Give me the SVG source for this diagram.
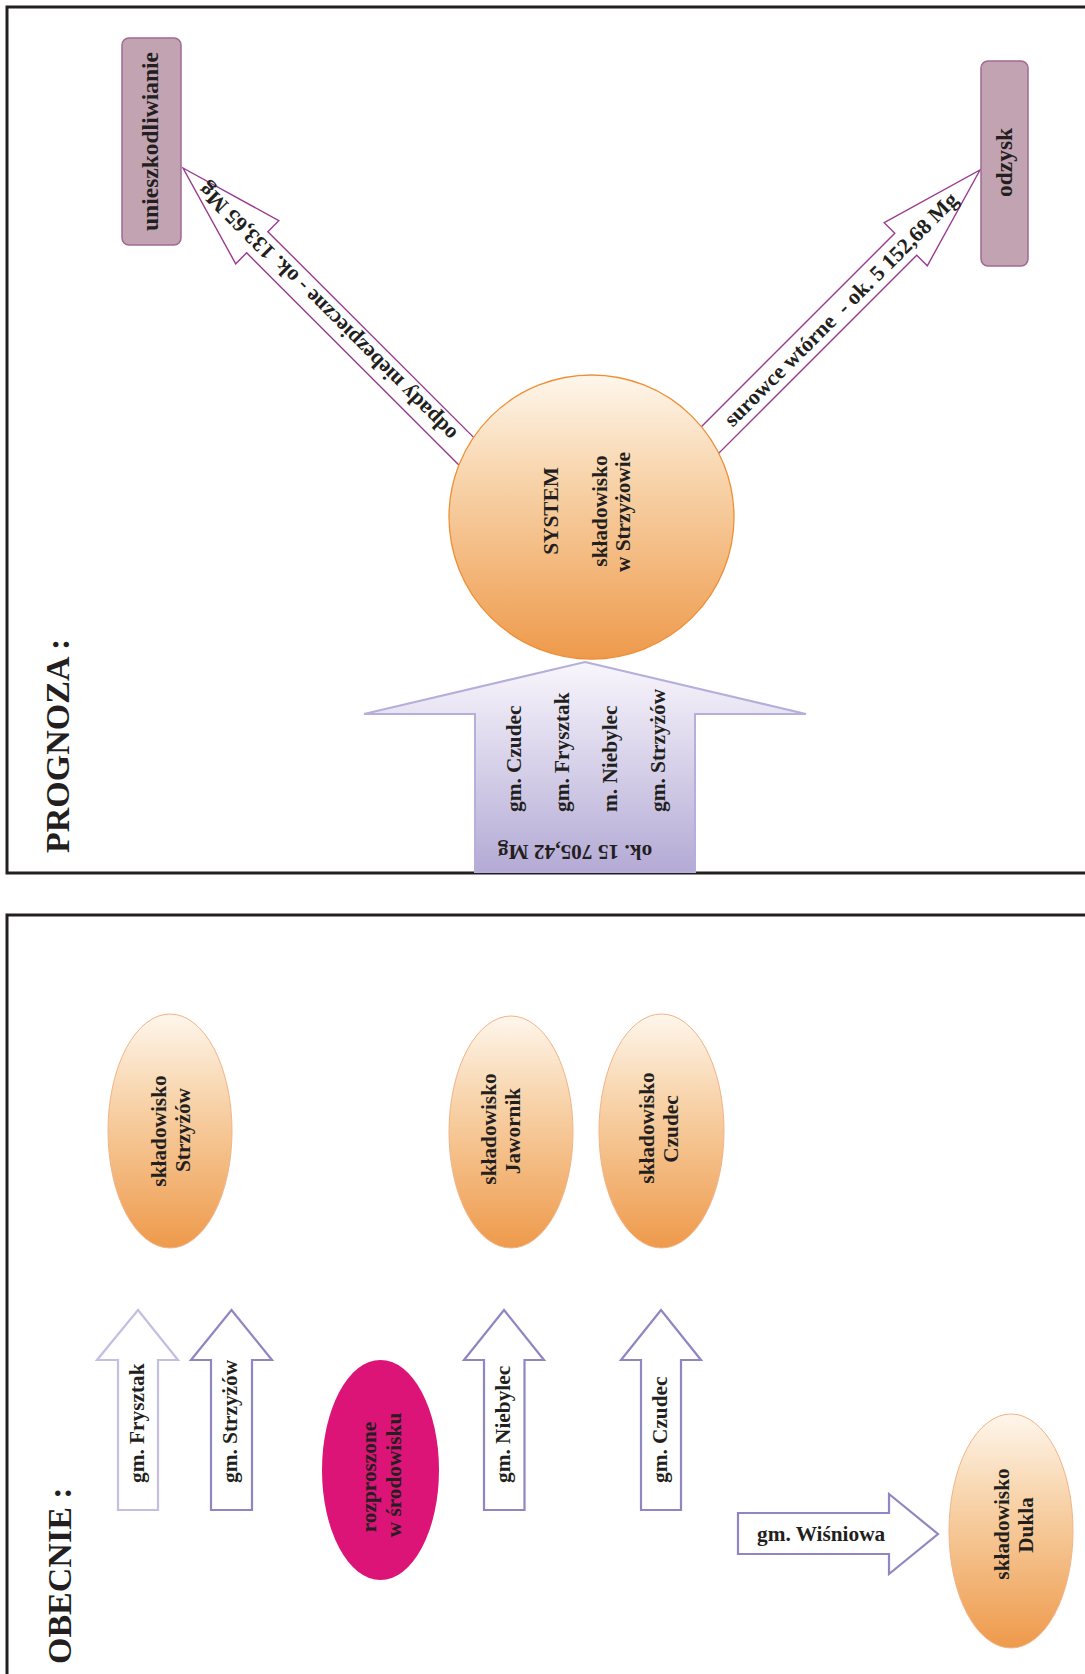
<svg xmlns="http://www.w3.org/2000/svg" width="1085" height="1674" viewBox="0 0 1085 1674">
<style>
  .t { font-family: "Liberation Serif", "Times New Roman", serif; font-weight: bold; fill: #231f20; }
  .s21 { font-size: 21.3px; }
  .s22 { font-size: 22px; }
  .s23 { font-size: 23.5px; }
  .big { font-size: 34px; }
  .frame { fill: none; stroke: #231f20; stroke-width: 3; }
  .box { fill: #c2a3b2; stroke: #a06a92; stroke-width: 1.5; }
  .orange { fill: url(#gOrange); stroke: #f3b387; stroke-width: 1; }
  .circ { fill: url(#gOrange); stroke: #ef8f35; stroke-width: 1.3; }
  .diag { fill: #ffffff; stroke: #9a3a8e; stroke-width: 1.4; }
  .varrow { fill: #ffffff; stroke: #8f87c2; stroke-width: 2.2; }
  .varrow-light { fill: #ffffff; stroke: #c4bee2; stroke-width: 2.2; }
</style>
<defs>
  <linearGradient id="gOrange" x1="0" y1="0" x2="0" y2="1">
    <stop offset="0" stop-color="#fef6ec"/>
    <stop offset="0.35" stop-color="#f8d5ad"/>
    <stop offset="1" stop-color="#ee9a4b"/>
  </linearGradient>
  <linearGradient id="gPurple" x1="0" y1="0" x2="0" y2="1">
    <stop offset="0" stop-color="#f8f6fc"/>
    <stop offset="1" stop-color="#b4aad5"/>
  </linearGradient>
</defs>
<rect width="1085" height="1674" fill="#ffffff"/>

<!-- frames -->
<path class="frame" d="M1095 7 H7 V873 H1095"/>
<path class="frame" d="M1095 915 H7 V1680"/>

<!-- section titles -->
<text class="t big" transform="translate(69,853) rotate(-90)">PROGNOZA :</text>
<text class="t big" transform="translate(71,1664) rotate(-90)">OBECNIE :</text>

<!-- connectors -->
<g id="connectors">
  <g id="arrow-odpady" transform="translate(183,168) rotate(45)">
    <polygon class="diag" points="0,0 105,-30.5 105,-15 420,-15 420,15 105,15 105,30.5"/>
    <text class="t s22" text-anchor="middle" transform="translate(204,0) rotate(180)" dy="0.34em">odpady niebezpieczne - ok. 133,65 Mg</text>
  </g>
  <g id="arrow-surowce" transform="translate(980,170) rotate(135)">
    <polygon class="diag" points="0,0 105,-30.5 105,-15.5 410,-15.5 410,15.5 105,15.5 105,30.5"/>
    <text class="t s22" text-anchor="middle" transform="translate(197,0) rotate(180)" dy="0.34em" xml:space="preserve">surowce wtórne  - ok. 5 152,68 Mg</text>
  </g>
  <g id="arrow-input">
    <polygon fill="url(#gPurple)" stroke="#b6aedb" stroke-width="2" points="585,662 806,714 695,714 695,872 475,872 475,714 364,714"/>
    <text class="t s21" transform="translate(521,812) rotate(-90)">gm. Czudec</text>
    <text class="t s21" transform="translate(569,812) rotate(-90)">gm. Frysztak</text>
    <text class="t s21" transform="translate(617,812) rotate(-90)">m. Niebylec</text>
    <text class="t s21" transform="translate(665,812) rotate(-90)">gm. Strzyżów</text>
    <text class="t s21" text-anchor="middle" transform="translate(575,845) rotate(180)">ok. 15 705,42 Mg</text>
  </g>

  <g id="arrow-frysztak">
    <polygon class="varrow-light" points="138,1310 178,1360 158,1360 158,1510 118,1510 118,1360 97,1360"/>
    <text class="t s21" transform="translate(143.5,1483) rotate(-90)">gm. Frysztak</text>
  </g>
  <g id="arrow-strzyzow">
    <polygon class="varrow" points="231.5,1310 272,1360 252,1360 252,1510 211,1510 211,1360 191,1360"/>
    <text class="t s21" transform="translate(237,1483) rotate(-90)">gm. Strzyżów</text>
  </g>
  <g id="arrow-niebylec">
    <polygon class="varrow" points="504,1310 544,1360 524.5,1360 524.5,1510 484,1510 484,1360 464,1360"/>
    <text class="t s21" transform="translate(509.5,1483) rotate(-90)">gm. Niebylec</text>
  </g>
  <g id="arrow-czudec">
    <polygon class="varrow" points="661,1310 701,1360 681,1360 681,1510 641,1510 641,1360 621,1360"/>
    <text class="t s21" transform="translate(666.5,1483) rotate(-90)">gm. Czudec</text>
  </g>
  <g id="arrow-wisniowa">
    <polygon class="varrow" points="738,1513 889,1513 889,1494 938,1534 889,1574 889,1554 738,1554"/>
    <text class="t s21" x="757" y="1541">gm. Wiśniowa</text>
  </g>
</g>

<!-- nodes -->
<g id="node-unieszkodliwianie">
  <rect class="box" x="122" y="38" width="59" height="207" rx="7"/>
  <text class="t s23" text-anchor="middle" transform="translate(158,141.5) rotate(-90)">unieszkodliwianie</text>
</g>
<g id="node-odzysk">
  <rect class="box" x="981" y="61" width="47" height="205" rx="7"/>
  <text class="t s23" text-anchor="middle" transform="translate(1012,162.5) rotate(-90)">odzysk</text>
</g>
<g id="node-system">
  <ellipse class="circ" cx="591.5" cy="517" rx="142.5" ry="142"/>
  <text class="t s21" text-anchor="middle" transform="translate(558,511) rotate(-90)">SYSTEM</text>
  <text class="t s21" text-anchor="middle" transform="translate(607,511) rotate(-90)">składowisko</text>
  <text class="t s21" text-anchor="middle" transform="translate(630,512) rotate(-90)">w Strzyżowie</text>
</g>

<g id="node-skl-strzyzow">
  <ellipse class="orange" cx="170" cy="1131" rx="62" ry="117"/>
  <text class="t s21" text-anchor="middle" transform="translate(166,1131) rotate(-90)">składowisko</text>
  <text class="t s21" text-anchor="middle" transform="translate(190,1130) rotate(-90)">Strzyżów</text>
</g>
<g id="node-skl-jawornik">
  <ellipse class="orange" cx="511" cy="1132" rx="62" ry="116"/>
  <text class="t s21" text-anchor="middle" transform="translate(496,1129) rotate(-90)">składowisko</text>
  <text class="t s21" text-anchor="middle" transform="translate(520,1131) rotate(-90)">Jawornik</text>
</g>
<g id="node-skl-czudec">
  <ellipse class="orange" cx="661.5" cy="1131" rx="62.5" ry="117"/>
  <text class="t s21" text-anchor="middle" transform="translate(654,1128) rotate(-90)">składowisko</text>
  <text class="t s21" text-anchor="middle" transform="translate(678,1129) rotate(-90)">Czudec</text>
</g>
<g id="node-rozproszone">
  <ellipse cx="380.5" cy="1470" rx="58.5" ry="110" fill="#dc1477"/>
  <text class="t s21" text-anchor="middle" transform="translate(376,1477) rotate(-90)">rozproszone</text>
  <text class="t s21" text-anchor="middle" transform="translate(401,1475) rotate(-90)">w środowisku</text>
</g>
<g id="node-skl-dukla">
  <ellipse class="orange" cx="1011" cy="1531" rx="62" ry="117"/>
  <text class="t s21" text-anchor="middle" transform="translate(1009,1524) rotate(-90)">składowisko</text>
  <text class="t s21" text-anchor="middle" transform="translate(1033,1525) rotate(-90)">Dukla</text>
</g>
</svg>
